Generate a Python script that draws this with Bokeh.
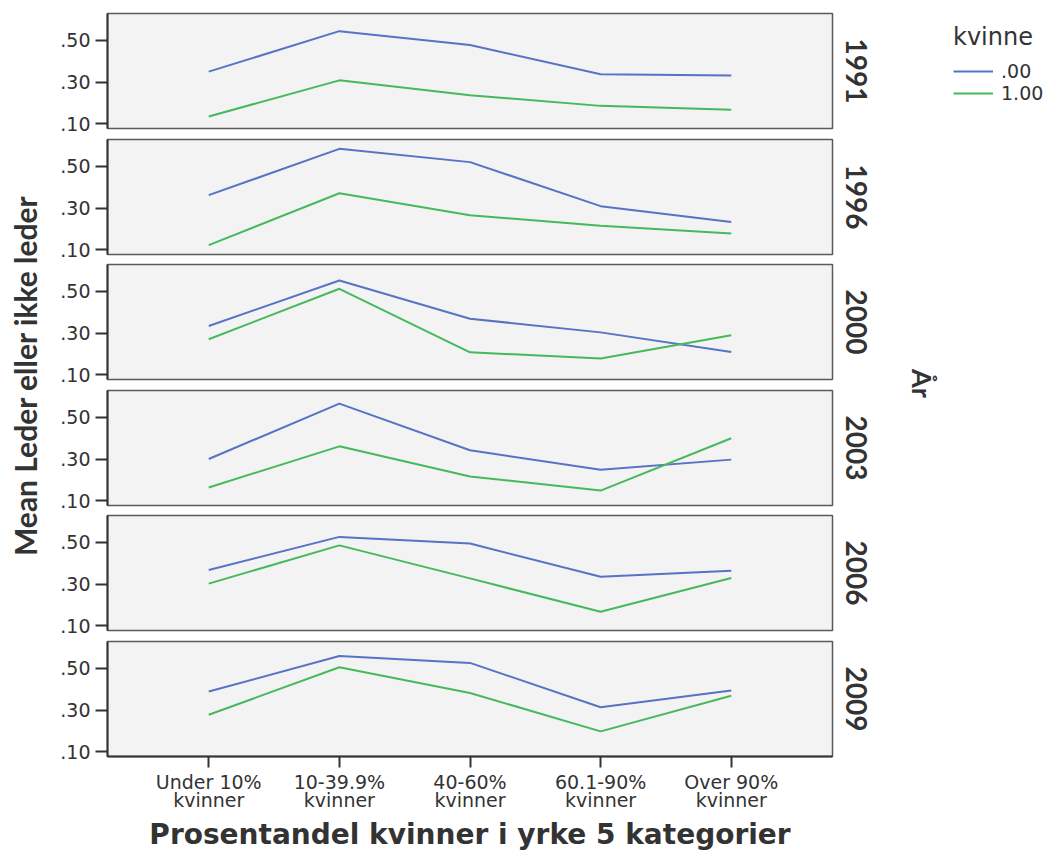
from math import pi
from bokeh.plotting import figure
from bokeh.models import FactorRange, Range1d, FixedTicker, Label, Legend, LegendItem, Title
from bokeh.layouts import row, column
from bokeh.embed import file_html
from bokeh.resources import INLINE

# ---------------- data ----------------
categories = ["Under 10%\nkvinner", "10-39.9%\nkvinner", "40-60%\nkvinner",
              "60.1-90%\nkvinner", "Over 90%\nkvinner"]
years = ["1991", "1996", "2000", "2003", "2006", "2009"]
series_labels = [".00", "1.00"]
y_ticks = [0.1, 0.3, 0.5]
y_tick_labels = [".10", ".30", ".50"]

kvinne_00 = {
    "1991": [0.350, 0.545, 0.478, 0.337, 0.331],
    "1996": [0.362, 0.585, 0.521, 0.309, 0.233],
    "2000": [0.334, 0.553, 0.369, 0.303, 0.209],
    "2003": [0.300, 0.567, 0.342, 0.248, 0.297],
    "2006": [0.367, 0.527, 0.495, 0.335, 0.364],
    "2009": [0.389, 0.560, 0.527, 0.313, 0.394],
}
kvinne_100 = {
    "1991": [0.134, 0.308, 0.236, 0.185, 0.166],
    "1996": [0.121, 0.371, 0.265, 0.214, 0.177],
    "2000": [0.270, 0.513, 0.207, 0.177, 0.289],
    "2003": [0.163, 0.361, 0.216, 0.148, 0.400],
    "2006": [0.302, 0.486, 0.327, 0.166, 0.329],
    "2009": [0.277, 0.506, 0.382, 0.197, 0.369],
}

# ---------------- styles ----------------
BLUE = "#5872c4"
GREEN = "#45b95c"
PANEL_BG = "#f3f3f3"
DARK = "#333333"
TICK_FONT = "DejaVu Sans"
TITLE_FONT = "Lato"

FRAME_H = 115
TOTAL_H = 850
LEFT_W = 48
PANEL_W = 846          # 59 + 725 + 62
RIGHT_W = 1050 - LEFT_W - PANEL_W
# (height, top border) for each panel figure
panel_dims = [(136, 13), (125, 3), (126, 3), (125, 3), (126, 3), (178, 3)]

x_range = FactorRange(factors=categories, range_padding=0.275, range_padding_units="absolute")

panels = []
for i, yr in enumerate(years):
    last = i == len(years) - 1
    h, bt = panel_dims[i]
    p = figure(width=PANEL_W, height=h, x_range=x_range, y_range=Range1d(0.076, 0.63),
               output_backend="svg", toolbar_location=None,
               x_axis_location=("below" if last else None),
               min_border_left=59, min_border_right=62, min_border_top=bt,
               min_border_bottom=h - bt - FRAME_H,
               background_fill_color=PANEL_BG, border_fill_color="white",
               outline_line_color="#5a5a5a", outline_line_width=1.5)
    p.grid.visible = False
    p.line(categories, kvinne_00[yr], color=BLUE, line_width=2)
    p.line(categories, kvinne_100[yr], color=GREEN, line_width=2)

    ya = p.yaxis[0]
    ya.ticker = FixedTicker(ticks=y_ticks)
    ya.major_label_overrides = dict(zip(y_ticks, y_tick_labels))
    ya.minor_tick_line_color = None
    ya.major_tick_in = 0
    ya.major_tick_out = 12
    ya.major_tick_line_width = 2
    ya.major_tick_line_color = DARK
    ya.axis_line_color = DARK
    ya.axis_line_width = 2
    ya.major_label_standoff = 5
    ya.major_label_text_font = TICK_FONT
    ya.major_label_text_font_size = "19px"
    ya.major_label_text_color = DARK

    if last:
        xa = p.xaxis[0]
        xa.major_tick_in = 0
        xa.major_tick_out = 11
        xa.major_tick_line_width = 2
        xa.major_tick_line_color = DARK
        xa.axis_line_color = DARK
        xa.axis_line_width = 2
        xa.major_label_standoff = 3
        xa.major_label_text_font = TICK_FONT
        xa.major_label_text_font_size = "19px"
        xa.major_label_text_color = DARK
        xa.major_label_text_line_height = 0.85

    p.add_layout(Title(text=yr, align="center", standoff=26,
                       text_font=TITLE_FONT, text_font_style="bold", text_font_size="28px",
                       text_color=DARK), "right")
    panels.append(p)

# x axis title strip under the panels (its frame is aligned with the panels' frames)
tf = figure(width=PANEL_W, height=TOTAL_H - sum(d[0] for d in panel_dims),
            x_range=Range1d(0, 1), y_range=Range1d(0, 1),
            output_backend="svg", toolbar_location=None, x_axis_location=None,
            y_axis_location=None, min_border=0, outline_line_color=None)
tf.grid.visible = False
tf.add_layout(Label(x=725 / 2, y=16, x_units="screen", y_units="screen",
                    text="Prosentandel kvinner i yrke 5 kategorier",
                    text_align="center", text_baseline="alphabetic",
                    text_font=TICK_FONT, text_font_style="bold",
                    text_font_size="28px", text_color=DARK))

# left: y axis title
lf = figure(width=LEFT_W, height=TOTAL_H, x_range=Range1d(0, 1), y_range=Range1d(0, 1),
            output_backend="svg", toolbar_location=None, x_axis_location=None,
            y_axis_location=None, min_border=0, outline_line_color=None)
lf.grid.visible = False
lf.add_layout(Label(x=24, y=TOTAL_H - 375, x_units="screen", y_units="screen",
                    text="Mean Leder eller ikke leder", angle=pi / 2,
                    text_align="center", text_baseline="middle",
                    text_font=TITLE_FONT, text_font_style="bold", text_font_size="30px",
                    text_color=DARK))

# right: legend and facet title
rf = figure(width=RIGHT_W, height=TOTAL_H, x_range=FactorRange(factors=categories),
            y_range=Range1d(10, 11),
            output_backend="svg", toolbar_location=None, x_axis_location=None,
            y_axis_location=None, min_border=0, outline_line_color=None)
rf.grid.visible = False
# legend proxies (outside the visible range, only their legend swatches show)
r0 = rf.line(categories, kvinne_00["1991"], color=BLUE, line_width=2)
r1 = rf.line(categories, kvinne_100["1991"], color=GREEN, line_width=2)
rx0 = 953 - (LEFT_W + PANEL_W)
legend = Legend(items=[LegendItem(label=series_labels[0], renderers=[r0]),
                       LegendItem(label=series_labels[1], renderers=[r1])],
                title="kvinne", location=(rx0, TOTAL_H - 22 - 82), margin=0, padding=0,
                glyph_width=40, glyph_height=20, label_height=20, label_standoff=8,
                spacing=0, title_standoff=9,
                label_text_font=TICK_FONT, label_text_font_size="19px",
                label_text_color=DARK,
                title_text_font=TICK_FONT, title_text_font_size="24px",
                title_text_font_style="normal", title_text_color=DARK,
                background_fill_alpha=0, border_line_color=None)
rf.add_layout(legend)
rf.add_layout(Label(x=922 - (LEFT_W + PANEL_W), y=TOTAL_H - 383, x_units="screen",
                    y_units="screen", text="År", angle=-pi / 2, text_align="center",
                    text_baseline="middle", text_font=TITLE_FONT, text_font_style="bold",
                    text_font_size="27px", text_color=DARK))

layout = row(lf, column(*panels, tf), rf)
open("out.html", "w").write(file_html(layout, INLINE))
